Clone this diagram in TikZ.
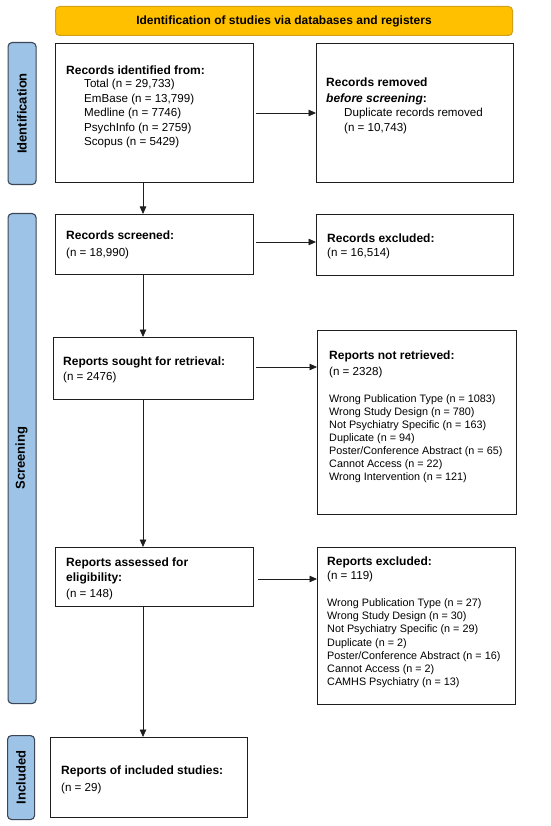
\documentclass[tikz,border=0pt]{standalone}
\usepackage{fontspec}
\setmainfont{Liberation Sans}
\usetikzlibrary{arrows.meta}
\definecolor{bannerfill}{HTML}{FFC000}
\definecolor{bannerdraw}{HTML}{D4A017}
\definecolor{sidefill}{HTML}{9DC3E6}
\definecolor{sidedraw}{HTML}{3B4656}
\definecolor{boxdraw}{HTML}{1E1E1E}
\tikzset{
  boxnode/.style={draw=boxdraw, line width=0.9pt, inner sep=0pt, anchor=north west},
  sidenode/.style={draw=sidedraw, fill=sidefill, line width=1.1pt, rounded corners=4pt, inner sep=0pt, anchor=north west},
  sidetext/.style={rotate=90, font=\fontsize{13}{15}\selectfont\bfseries, inner sep=0pt},
  ln/.style={anchor=base west, inner sep=0pt, font=\fontsize{11.6}{13}\selectfont},
  lnb/.style={ln, font=\fontsize{12}{14}\selectfont\bfseries},
  lns/.style={anchor=base west, inner sep=0pt, font=\fontsize{10.8}{12}\selectfont},
  arr/.style={-{Triangle[length=7.5pt,width=6.5pt]}, line width=0.8pt, draw=boxdraw},
}
\begin{document}
\begin{tikzpicture}[x=1pt,y=-1pt]
\useasboundingbox (0,0) rectangle (550,826);
\fill[white] (0,0) rectangle (550,826);

% banner
\node[draw=bannerdraw, fill=bannerfill, line width=1pt, rounded corners=4pt, inner sep=0pt,
  minimum width=457pt, minimum height=29pt, anchor=north west] (banner) at (55,6) {};
\node[font=\fontsize{12}{14}\selectfont\bfseries, inner sep=0pt] (bannert) at (284,21)
  {Identification of studies via databases and registers};

% side labels
\node[sidenode, minimum width=28pt, minimum height=142pt] (sid) at (7.5,42) {};
\node[sidetext] (sidt) at (sid.center) {Identification};
\node[sidenode, minimum width=28pt, minimum height=490pt] (sscr) at (7.5,213) {};
\node[sidetext] (sscrt) at (21.5,458) {Screening};
\node[sidenode, minimum width=27pt, minimum height=84pt] (sinc) at (7,735) {};
\node[sidetext] (sinct) at (sinc.center) {Included};

% boxes
\node[boxnode, minimum width=198pt, minimum height=139pt] (b1) at (55,43) {};
\node[boxnode, minimum width=197pt, minimum height=139pt] (b2) at (316,43) {};
\node[boxnode, minimum width=198pt, minimum height=60pt] (b3) at (55,214) {};
\node[boxnode, minimum width=197pt, minimum height=61pt] (b4) at (316,214) {};
\node[boxnode, minimum width=200pt, minimum height=62pt] (b5) at (53,337) {};
\node[boxnode, minimum width=199pt, minimum height=184pt] (b6) at (317,330) {};
\node[boxnode, minimum width=198pt, minimum height=59pt] (b7) at (55,547) {};
\node[boxnode, minimum width=198pt, minimum height=157pt] (b8) at (317,547) {};
\node[boxnode, minimum width=197pt, minimum height=80pt] (b9) at (50,737) {};

% texts box 1
\node[lnb] (t1a) at (66,75) {Records identified from:};
\node[ln] (t1b) at (84,88) {Total (n = 29,733)};
\node[ln] (t1c) at (84,102.5) {EmBase (n = 13,799)};
\node[ln] (t1d) at (84,117) {Medline (n = 7746)};
\node[ln] (t1e) at (84,131.5) {PsychInfo (n = 2759)};
\node[ln] (t1f) at (84,146) {Scopus (n = 5429)};

% box 2
\node[lnb] (t2a) at (326,87) {Records removed};
\node[lnb] (t2b) at (326,102.5) {\itshape before screening\upshape:};
\node[ln] (t2c) at (344,117) {Duplicate records removed};
\node[ln] (t2d) at (344,131.5) {(n = 10,743)};

% box 3
\node[lnb] (t3a) at (66,240) {Records screened:};
\node[ln] (t3b) at (66,256) {(n = 18,990)};

% box 4
\node[lnb] (t4a) at (327,242) {Records excluded:};
\node[ln] (t4b) at (327,256) {(n = 16,514)};

% box 5
\node[lnb] (t5a) at (63,365) {Reports sought for retrieval:};
\node[ln] (t5b) at (63,380) {(n = 2476)};

% box 6
\node[lnb] (t6a) at (329,359) {Reports not retrieved:};
\node[ln] (t6b) at (329,375) {(n = 2328)};
\foreach \t [count=\i from 0] in {Wrong Publication Type (n = 1083),Wrong Study Design (n = 780),Not Psychiatry Specific (n = 163),Duplicate (n = 94),Poster/Conference Abstract (n = 65),Cannot Access (n = 22),Wrong Intervention (n = 121)}
  \node[lns] (t6l\i) at (329,402+13.07*\i) {\t};

% box 7
\node[lnb] (t7a) at (66,566) {Reports assessed for};
\node[lnb] (t7b) at (66,581) {eligibility:};
\node[ln] (t7c) at (66,597) {(n = 148)};

% box 8
\node[lnb] (t8a) at (327,565) {Reports excluded:};
\node[ln] (t8b) at (327,579) {(n = 119)};
\foreach \t [count=\i from 0] in {Wrong Publication Type (n = 27),Wrong Study Design (n = 30),Not Psychiatry Specific (n = 29),Duplicate (n = 2),Poster/Conference Abstract (n = 16),Cannot Access (n = 2),CAMHS Psychiatry (n = 13)}
  \node[lns] (t8l\i) at (327,606.5+13.17*\i) {\t};

% box 9
\node[lnb] (t9a) at (61,774) {Reports of included studies:};
\node[ln] (t9b) at (61,791) {(n = 29)};

% connectors
\coordinate (colx) at (143,0);
\coordinate (r1) at (0,113);
\coordinate (r2) at (0,242);
\coordinate (r3) at (0,367);
\coordinate (r4) at (0,579);
\draw[arr] (b1.south -| colx) -- (b3.north -| colx);
\draw[arr] (b3.south -| colx) -- (b5.north -| colx);
\draw[arr] (b5.south -| colx) -- (b7.north -| colx);
\draw[arr] (b7.south -| colx) -- (b9.north -| colx);
\draw[arr] ([xshift=2pt]b1.east |- r1) -- (b2.west |- r1);
\draw[arr] ([xshift=2pt]b3.east |- r2) -- (b4.west |- r2);
\draw[arr] ([xshift=2pt]b5.east |- r3) -- (b6.west |- r3);
\draw[arr] ([xshift=4pt]b7.east |- r4) -- (b8.west |- r4);
\end{tikzpicture}
\end{document}
